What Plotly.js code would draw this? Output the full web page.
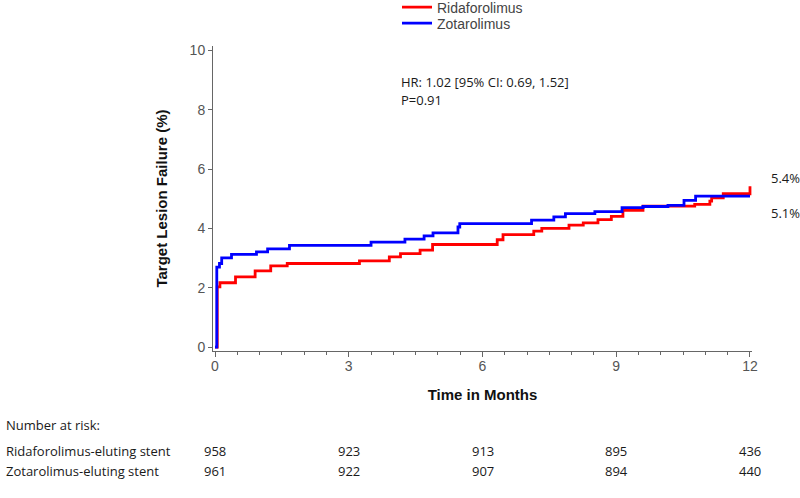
<!DOCTYPE html>
<html>
<head>
<meta charset="utf-8">
<script src="https://cdn.plot.ly/plotly-3.0.1.min.js"></script>
<style>html,body{margin:0;padding:0;background:#fff;}#chart{width:800px;height:498px;}</style>
</head>
<body>
<div id="chart"></div>
<script>
// Kaplan-Meier cumulative incidence (%)
const ridaMonths = [0, 0.05, 0.11, 0.46, 0.90, 1.25, 1.62, 3.24, 3.91, 4.16, 4.60, 4.88, 6.33, 6.46, 7.15, 7.33, 7.94, 8.26, 8.59, 8.89, 9.15, 9.60, 10.76, 11.10, 11.14, 11.40, 12.0];
const ridaTLF    = [0, 2.03, 2.17, 2.37, 2.57, 2.74, 2.82, 2.91, 3.04, 3.15, 3.27, 3.46, 3.62, 3.79, 3.91, 4.00, 4.11, 4.19, 4.30, 4.41, 4.61, 4.75, 4.81, 4.92, 5.03, 5.17, 5.42];
const zotaMonths = [0, 0.04, 0.10, 0.15, 0.37, 0.93, 1.18, 1.67, 3.50, 4.26, 4.69, 4.89, 5.45, 5.49, 7.10, 7.60, 7.86, 8.52, 9.13, 9.60, 10.16, 10.52, 10.78, 12.0];
const zotaTLF    = [0, 2.70, 2.82, 3.01, 3.13, 3.21, 3.31, 3.43, 3.54, 3.64, 3.75, 3.85, 4.05, 4.16, 4.28, 4.39, 4.50, 4.57, 4.70, 4.74, 4.78, 4.95, 5.09, 5.09];

const seriesNames = ["Ridaforolimus", "Zotarolimus"];
const endLabels = ["5.4%", "5.1%"];

const riskTimes = [0, 3, 6, 9, 12];
const riskRida = [958, 923, 913, 895, 436];
const riskZota = [961, 922, 907, 894, 440];
const riskRowLabels = ["Ridaforolimus-eluting stent", "Zotarolimus-eluting stent"];

const statsLines = ["HR: 1.02 [95% CI: 0.69, 1.52]", "P=0.91"];

const xTicks = [0, 3, 6, 9, 12];
const yTicks = [0, 2, 4, 6, 8, 10];

// plot-area geometry in pixels (used to place free text in paper units)
const W = 800, H = 498, L = 213, R = 48, T = 45.5, B = 147;
const PW = W - L - R, PH = H - T - B;
const px = v => (v - L) / PW;
const py = v => (H - B - v) / PH;

const tableFont = {family: "'Open Sans', Lato, sans-serif", size: 13, color: "#1a1a1a"};
const arial = "'Liberation Sans', Arial, sans-serif";

const traces = [
  {x: ridaMonths, y: ridaTLF, name: seriesNames[0], type: "scatter", mode: "lines", legend: "legend",
   line: {shape: "hv", color: "#ff0000", width: 2.8}},
  {x: zotaMonths, y: zotaTLF, name: seriesNames[1], type: "scatter", mode: "lines", legend: "legend2",
   line: {shape: "hv", color: "#0000ff", width: 2.8}}
];

const annotations = [];
annotations.push({xref: "paper", yref: "paper", x: px(399), y: py(82), xanchor: "left", yanchor: "middle",
  text: statsLines[0], showarrow: false, font: tableFont});
annotations.push({xref: "paper", yref: "paper", x: px(399), y: py(100), xanchor: "left", yanchor: "middle",
  text: statsLines[1], showarrow: false, font: tableFont});
annotations.push({xref: "paper", yref: "paper", x: px(769), y: py(178), xanchor: "left", yanchor: "middle",
  text: endLabels[0], showarrow: false, font: tableFont});
annotations.push({xref: "paper", yref: "paper", x: px(769), y: py(213), xanchor: "left", yanchor: "middle",
  text: endLabels[1], showarrow: false, font: tableFont});
annotations.push({xref: "paper", yref: "paper", x: px(4), y: py(425), xanchor: "left", yanchor: "middle",
  text: "Number at risk:", showarrow: false, font: tableFont});
const rowY = [451, 471];
[riskRida, riskZota].forEach((row, r) => {
  annotations.push({xref: "paper", yref: "paper", x: px(4), y: py(rowY[r]), xanchor: "left", yanchor: "middle",
    text: riskRowLabels[r], showarrow: false, font: tableFont});
  row.forEach((v, i) => {
    annotations.push({xref: "x", yref: "paper", x: riskTimes[i], y: py(rowY[r]), xanchor: "center", yanchor: "middle",
      text: String(v), showarrow: false, font: tableFont});
  });
});

const legendBase = {xref: "paper", yref: "paper", xanchor: "left", yanchor: "middle",
  font: {family: arial, size: 14, color: "#444"}, bgcolor: "rgba(0,0,0,0)", itemwidth: 30};

const layout = {
  width: W, height: H,
  margin: {l: L, r: R, t: T, b: B, autoexpand: false},
  paper_bgcolor: "#fff", plot_bgcolor: "#fff",
  showlegend: true,
  legend: Object.assign({}, legendBase, {x: px(397), y: py(7)}),
  legend2: Object.assign({}, legendBase, {x: px(397), y: py(23)}),
  xaxis: {
    range: [-0.045, 12.045], tickvals: xTicks, ticktext: xTicks.map(String),
    showgrid: false, zeroline: false, showline: true, linecolor: "#666", linewidth: 1,
    ticks: "outside", ticklen: 5, tickcolor: "#666", ticklabelstandoff: -3,
    minor: {dtick: 0.5, tick0: 0, ticks: "outside", ticklen: 3, tickcolor: "#666", showgrid: false},
    tickfont: {family: arial, size: 14, color: "#555"},
    title: {text: "Time in Months", standoff: 16,
      font: {family: arial, size: 15, color: "#111", weight: "bold"}}
  },
  yaxis: {
    range: [-0.13, 10.15], tickvals: yTicks, ticktext: yTicks.map(String),
    showgrid: false, zeroline: false, showline: true, linecolor: "#666", linewidth: 1,
    ticks: "outside", ticklen: 4, tickcolor: "#666",
    tickfont: {family: arial, size: 14, color: "#555"},
    title: {text: "Target Lesion Failure (%)", standoff: 18,
      font: {family: arial, size: 15, color: "#111", weight: "bold"}}
  },
  annotations: annotations
};

Plotly.newPlot("chart", traces, layout, {displayModeBar: false, staticPlot: true});
</script>
</body>
</html>
